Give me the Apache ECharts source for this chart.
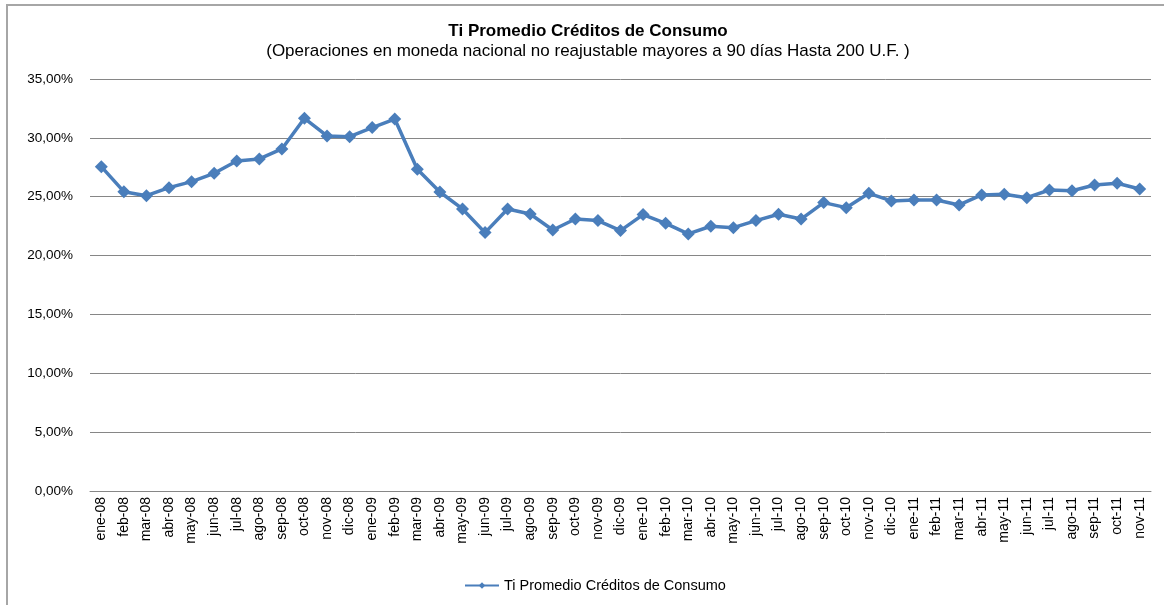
<!DOCTYPE html>
<html>
<head>
<meta charset="utf-8">
<title>Ti Promedio Créditos de Consumo</title>
<script src="https://cdn.jsdelivr.net/npm/echarts@6/dist/echarts.min.js"></script>
<style>
  html, body { margin: 0; padding: 0; background: #fff; }
  #chart { width: 1164px; height: 605px; }
</style>
</head>
<body>
<div id="chart"></div>
<script>
// meses (ene-08 .. nov-11)
const meses = [
  'ene-08', 'feb-08', 'mar-08', 'abr-08', 'may-08', 'jun-08', 'jul-08', 'ago-08', 'sep-08', 'oct-08', 'nov-08', 'dic-08',
  'ene-09', 'feb-09', 'mar-09', 'abr-09', 'may-09', 'jun-09', 'jul-09', 'ago-09', 'sep-09', 'oct-09', 'nov-09', 'dic-09',
  'ene-10', 'feb-10', 'mar-10', 'abr-10', 'may-10', 'jun-10', 'jul-10', 'ago-10', 'sep-10', 'oct-10', 'nov-10', 'dic-10',
  'ene-11', 'feb-11', 'mar-11', 'abr-11', 'may-11', 'jun-11', 'jul-11', 'ago-11', 'sep-11', 'oct-11', 'nov-11'
];

// tasa promedio en %
const tasaPromedio = [
  27.55, 25.43, 25.09, 25.77, 26.28, 26.99, 28.04, 28.21, 29.06, 31.66, 30.16, 30.10,
  30.87, 31.60, 27.33, 25.40, 23.96, 21.95, 23.96, 23.53, 22.17, 23.11, 22.97, 22.12,
  23.48, 22.74, 21.84, 22.49, 22.37, 22.97, 23.51, 23.10, 24.50, 24.07, 25.29, 24.64,
  24.72, 24.72, 24.30, 25.15, 25.21, 24.92, 25.57, 25.51, 26.00, 26.14, 25.66
];

const serieNombre = 'Ti Promedio Créditos de Consumo';
const tituloTexto = 'Ti Promedio Créditos de Consumo';
const subtituloTexto = '(Operaciones en moneda nacional no reajustable mayores a 90 días Hasta 200 U.F. )';

const fuente = '"Liberation Sans", Arial, sans-serif';

const chart = echarts.init(document.getElementById('chart'));

const opt = {
  backgroundColor: '#fff',
  animation: false,
  textStyle: { fontFamily: fuente },
  title: {
    text: tituloTexto,
    subtext: subtituloTexto,
    left: 588,
    textAlign: 'center',
    top: 23,
    padding: 0,
    itemGap: 3,
    textStyle: { fontSize: 17, fontWeight: 'bold', color: '#000', fontFamily: fuente },
    subtextStyle: { fontSize: 17, color: '#000', fontFamily: fuente }
  },
  // marco del gráfico
  graphic: [
    {
      type: 'rect',
      shape: { x: 7, y: 5, width: 1200, height: 700 },
      style: { fill: 'none', stroke: '#a6a6a6', lineWidth: 2 },
      silent: true
    }
  ],
  legend: {
    bottom: 7,
    left: 459,
    itemWidth: 34,
    itemHeight: 8,
    itemGap: 4,
    textStyle: { fontSize: 14.5, color: '#000', fontFamily: fuente },
    data: [serieNombre]
  },
  grid: {
    left: 90,
    right: 13,
    top: 79,
    bottom: 114,
    containLabel: false
  },
  xAxis: {
    type: 'category',
    data: meses,
    boundaryGap: true,
    axisLine: { show: true, lineStyle: { color: '#868686', width: 1 } },
    axisTick: { show: false },
    axisLabel: {
      interval: 0,
      rotate: 90,
      margin: 6,
      fontSize: 14,
      color: '#000',
      fontFamily: fuente
    }
  },
  yAxis: {
    type: 'value',
    min: 0,
    max: 35,
    interval: 5,
    axisLine: { show: false },
    axisTick: { show: false },
    splitLine: { lineStyle: { color: '#868686', width: 1 } },
    axisLabel: {
      margin: 17,
      fontSize: 13.5,
      color: '#000',
      fontFamily: fuente,
      formatter: function (v) {
        return v.toFixed(2).replace('.', ',') + '%';
      }
    }
  },
  series: [
    {
      name: serieNombre,
      type: 'line',
      data: tasaPromedio,
      symbol: 'diamond',
      symbolSize: 13,
      itemStyle: { color: '#4a7ebb' },
      lineStyle: { color: '#4a7ebb', width: 3.5 }
    }
  ]
};

chart.setOption(opt);
</script>
</body>
</html>
